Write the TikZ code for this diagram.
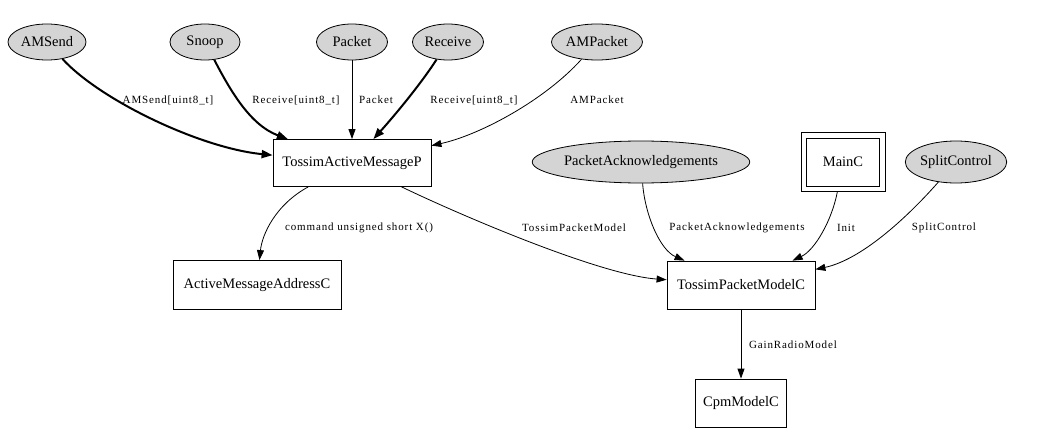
\documentclass[tikz,border=0pt]{standalone}
\usepackage{fontspec}
\setmainfont{Liberation Serif}
\newfontfamily\lblfont[LetterSpace=8]{Liberation Serif}
\usetikzlibrary{arrows.meta,shapes.geometric}
\tikzset{
  iface/.style={ellipse, draw=black, fill=black!17, line width=0.8pt, inner sep=0pt, font=\fontsize{14.5}{16}\selectfont},
  comp/.style={rectangle, draw=black, line width=0.8pt, inner sep=0pt, font=\fontsize{14.5}{16}\selectfont},
  lbl/.style={inner sep=0pt, font=\lblfont\fontsize{11}{13}\selectfont},
  wire/.style={draw=black, line width=0.8pt, -{Triangle[length=10pt,width=7pt]}},
  thickwire/.style={draw=black, line width=2pt, -{Triangle[length=11pt,width=8pt]}}
}
\begin{document}
\begin{tikzpicture}[x=1pt,y=-1pt]
\useasboundingbox (0,0) rectangle (1039,444);
% interfaces
\node[iface, minimum width=78pt, minimum height=36pt] (amsend) at (47,42) {AMSend};
\node[iface, minimum width=70pt, minimum height=36pt] (snoop) at (205,42) {Snoop};
\node[iface, minimum width=71pt, minimum height=36pt] (packet) at (352,42) {Packet};
\node[iface, minimum width=71pt, minimum height=36pt] (receive) at (448,42) {Receive};
\node[iface, minimum width=91pt, minimum height=36pt] (ampacket) at (597,42) {AMPacket};
\node[iface, minimum width=184pt, minimum height=42pt] (pack) at (641,162) {PacketAcknowledgements};
\node[iface, minimum width=95pt, minimum height=42pt] (split) at (956,162) {SplitControl};
% components
\node[comp, minimum width=158pt, minimum height=47pt] (tamp) at (352,163) {TossimActiveMessageP};
\node[comp, minimum width=84pt, minimum height=59pt] (mainc) at (843,162) {MainC};
\draw[line width=0.8pt] ([shift={(6pt,-6pt)}]mainc.north west) rectangle ([shift={(-6pt,6pt)}]mainc.south east);
\node[comp, minimum width=168pt, minimum height=49pt] (amac) at (257,285) {ActiveMessageAddressC};
\node[comp, minimum width=148pt, minimum height=48pt] (tpmc) at (741,285) {TossimPacketModelC};
\node[comp, minimum width=91pt, minimum height=48pt] (cpm) at (741,403) {CpmModelC};
% edges
\draw[thickwire] (amsend) .. controls (100,100) and (200,148) .. (tamp);
\draw[thickwire] (snoop) .. controls (230,90) and (250,125) .. (tamp);
\draw[wire] (packet) -- (tamp);
\draw[thickwire] (receive) .. controls (420,85) and (395,115) .. (tamp);
\draw[wire] (ampacket) .. controls (545,100) and (480,135) .. (tamp);
\draw[wire] (tamp) .. controls (275,205) and (262,235) .. (amac);
\draw[wire] (tamp) .. controls (460,215) and (600,275) .. (tpmc);
\draw[wire] (pack) .. controls (645,215) and (660,250) .. (tpmc);
\draw[wire] (mainc) .. controls (832,220) and (815,250) .. (tpmc);
\draw[wire] (split) .. controls (905,220) and (860,260) .. (tpmc);
\draw[wire] (tpmc) -- (cpm);
% labels
\node[lbl] (l1) at (168,100) {AMSend[uint8\_t]};
\node[lbl] (l2) at (296,100) {Receive[uint8\_t]};
\node[lbl] (l3) at (376,100) {Packet};
\node[lbl] (l4) at (474,100) {Receive[uint8\_t]};
\node[lbl] (l5) at (597,100) {AMPacket};
\node[lbl] (l6) at (359,228) {command unsigned short X()};
\node[lbl] (l7) at (574,228) {TossimPacketModel};
\node[lbl] (l8) at (737,228) {PacketAcknowledgements};
\node[lbl] (l9) at (846,228) {Init};
\node[lbl] (l10) at (944,228) {SplitControl};
\node[lbl] (l11) at (793,345) {GainRadioModel};
\end{tikzpicture}
\end{document}
